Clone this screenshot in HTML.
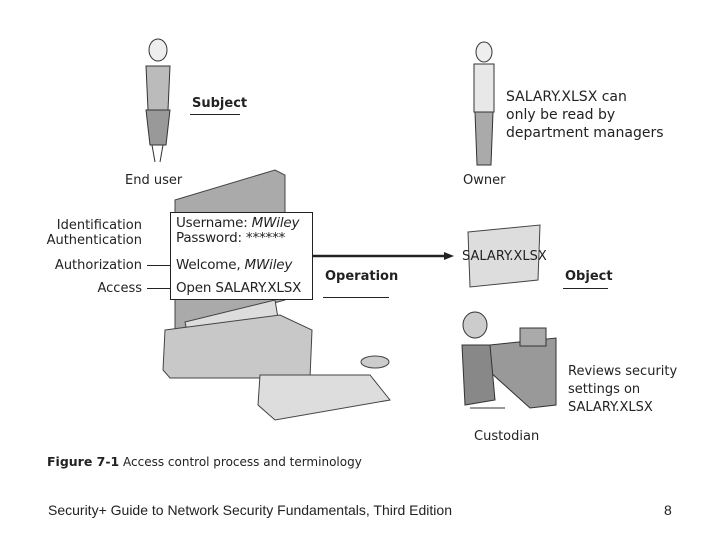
<!DOCTYPE html>
<html><head><style>
body{margin:0;width:720px;height:540px;background:#fff;position:relative;overflow:hidden;font-family:"DejaVu Sans","Liberation Sans",sans-serif;color:#222}
.t{position:absolute;font-size:13px;white-space:nowrap;line-height:15px}
.r{text-align:right}
</style></head><body>
<svg width="720" height="540" style="position:absolute;left:0;top:0">
<g fill="#bbb" stroke="#333" stroke-width="1">
<ellipse cx="158" cy="50" rx="9" ry="11" fill="#eee"/>
<path d="M146 66 L170 66 L168 110 L148 110 Z"/>
<path d="M146 110 L170 110 L166 145 L150 145 Z" fill="#999"/>
<path d="M152 145 L155 162 M163 145 L160 162" fill="none"/>
</g>
<g fill="#ccc" stroke="#333">
<ellipse cx="484" cy="52" rx="8" ry="10" fill="#eee"/>
<path d="M474 64 L494 64 L494 112 L474 112 Z" fill="#e8e8e8"/>
<path d="M475 112 L493 112 L491 165 L477 165 Z" fill="#aaa"/>
</g>
<g stroke="#444">
<path d="M175 200 L275 170 L285 175 L285 300 L175 330 Z" fill="#aaa"/>
<path d="M185 322 L275 300 L280 330 L190 345 Z" fill="#ddd"/>
<path d="M165 330 L280 315 L312 330 L310 378 L170 378 L163 370 Z" fill="#c8c8c8"/>
<path d="M260 375 L370 375 L390 400 L275 420 L258 405 Z" fill="#ddd"/>
<ellipse cx="375" cy="362" rx="14" ry="6" fill="#ccc"/>
</g>
<path d="M468 232 L540 225 L538 280 L470 287 Z" fill="#ddd" stroke="#444"/>
<g stroke="#333">
<path d="M490 345 L556 338 L556 405 L530 408 L490 372 Z" fill="#999"/>
<rect x="520" y="328" width="26" height="18" fill="#aaa"/>
<path d="M462 345 L490 345 L495 400 L465 405 Z" fill="#888"/>
<ellipse cx="475" cy="325" rx="12" ry="13" fill="#ccc"/>
<path d="M470 408 L505 408" />
</g>
<rect x="170.5" y="212.5" width="142" height="87" fill="#fff" stroke="#222"/>
<line x1="313" y1="256" x2="446" y2="256" stroke="#222" stroke-width="2.5"/>
<path d="M444 252 L454 256 L444 260 Z" fill="#222"/>
<line x1="147" y1="265.5" x2="170" y2="265.5" stroke="#222"/>
<line x1="147" y1="288.5" x2="170" y2="288.5" stroke="#222"/>
<line x1="190" y1="114.5" x2="240" y2="114.5" stroke="#222"/>
<line x1="323" y1="297.5" x2="389" y2="297.5" stroke="#222"/>
<line x1="563" y1="288.5" x2="608" y2="288.5" stroke="#222"/>
</svg>
<div class="t" style="left:192px;top:96px;font-weight:bold">Subject</div>
<div class="t" style="left:506px;top:88px;font-size:14px;line-height:18px">SALARY.XLSX can<br>only be read by<br>department managers</div>
<div class="t" style="left:125px;top:173px">End user</div>
<div class="t" style="left:463px;top:173px">Owner</div>
<div class="t r" style="right:578px;top:218px;line-height:15px">Identification<br>Authentication</div>
<div class="t r" style="right:578px;top:258px">Authorization</div>
<div class="t r" style="right:578px;top:281px">Access</div>
<div class="t" style="left:176px;top:216px;font-size:13.5px;line-height:15px;letter-spacing:-0.2px">Username: <i>MWiley</i><br>Password: ******</div>
<div class="t" style="left:176px;top:258px;font-size:13.5px;letter-spacing:-0.2px">Welcome, <i>MWiley</i></div>
<div class="t" style="left:176px;top:281px;font-size:13.5px;letter-spacing:-0.2px">Open SALARY.XLSX</div>
<div class="t" style="left:325px;top:269px;font-weight:bold">Operation</div>
<div class="t" style="left:462px;top:249px;font-size:13px">SALARY.XLSX</div>
<div class="t" style="left:565px;top:269px;font-weight:bold">Object</div>
<div class="t" style="left:568px;top:363px;line-height:18px">Reviews security<br>settings on<br>SALARY.XLSX</div>
<div class="t" style="left:474px;top:429px">Custodian</div>
<div class="t" style="left:47px;top:454px;font-weight:bold;font-size:12.5px">Figure 7-1</div>
<div class="t" style="left:123px;top:455px;font-size:12px">Access control process and terminology</div>
<div class="t" style="left:48px;top:503px;font-family:'Liberation Sans',sans-serif;font-size:14px">Security+ Guide to Network Security Fundamentals, Third Edition</div>
<div class="t" style="left:664px;top:503px;font-family:'Liberation Sans',sans-serif;font-size:14px">8</div>
</body></html>
